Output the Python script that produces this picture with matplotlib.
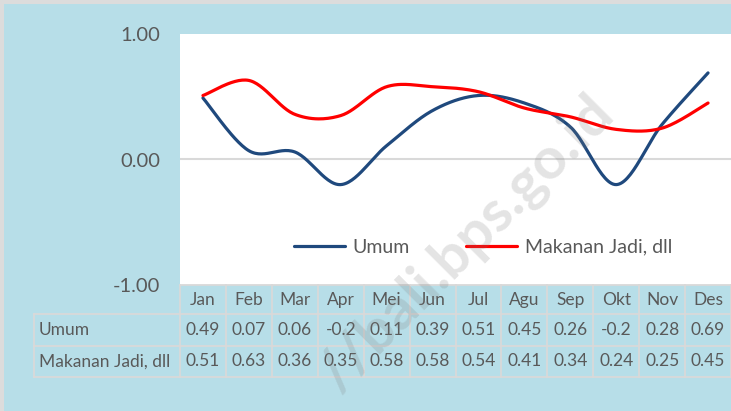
import numpy as np
import matplotlib.pyplot as plt
from matplotlib.transforms import blended_transform_factory

# data
months = ['Jan', 'Feb', 'Mar', 'Apr', 'Mei', 'Jun', 'Jul', 'Agu', 'Sep', 'Okt', 'Nov', 'Des']
umum = [0.49, 0.07, 0.06, -0.2, 0.11, 0.39, 0.51, 0.45, 0.26, -0.2, 0.28, 0.69]
makanan = [0.51, 0.63, 0.36, 0.35, 0.58, 0.58, 0.54, 0.41, 0.34, 0.24, 0.25, 0.45]
series_names = ['Umum', 'Makanan Jadi, dll']

BG = '#B7DEE8'
TXT = '#595959'
GRID = '#D9D9D9'

plt.rcParams['font.family'] = ['Lato', 'DejaVu Sans']


# Excel-like smoothed line (cardinal bezier)
def smooth(xs, ys, n=30):
    p = np.column_stack([xs, ys]).astype(float)
    ext = np.vstack([p[0], p, p[-1]])
    out = []
    for i in range(len(p) - 1):
        p0, p1, p2, p3 = ext[i], ext[i + 1], ext[i + 2], ext[i + 3]
        c1 = p1 + (p2 - p0) / 6
        c2 = p2 - (p3 - p1) / 6
        t = np.linspace(0, 1, n)[:, None]
        seg = (1 - t) ** 3 * p1 + 3 * (1 - t) ** 2 * t * c1 + 3 * (1 - t) * t ** 2 * c2 + t ** 3 * p2
        out.append(seg if i == 0 else seg[1:])
    out = np.vstack(out)
    return out[:, 0], out[:, 1]


fig = plt.figure(figsize=(7.31, 4.11), dpi=100)
fig.patch.set_facecolor(BG)

# thin grey frame on top and left
fig.add_artist(plt.Rectangle((0, 1 - 4 / 411), 1, 4 / 411, transform=fig.transFigure, color='#DCDCDC', lw=0))
fig.add_artist(plt.Rectangle((0, 0), 4 / 731, 1, transform=fig.transFigure, color='#DCDCDC', lw=0))

ax = fig.add_axes([180 / 731, 1 - 285 / 411, 551 / 731, 251 / 411])
ax.set_facecolor('white')
x = np.arange(len(months))

ax.axhline(0, color=GRID, lw=1.5, zorder=1)
sx, sy = smooth(x, umum)
ax.plot(sx, sy, color='#1F497D', lw=2.3, solid_capstyle='round', label=series_names[0], zorder=3)
sx, sy = smooth(x, makanan)
ax.plot(sx, sy, color='#FF0000', lw=2.3, solid_capstyle='round', label=series_names[1], zorder=3)

ax.set_xlim(-0.5, 11.5)
ax.set_ylim(-1, 1)
ax.set_yticks([-1, 0, 1])
ax.set_yticklabels(['-1.00', '0.00', '1.00'])
ax.tick_params(axis='y', length=0, pad=14, labelsize=14.5, labelcolor=TXT)
ax.set_xticks([])
for s in ax.spines.values():
    s.set_visible(False)

leg = ax.legend(loc='center', bbox_to_anchor=(0.55, 0.151), ncol=2, frameon=False,
                fontsize=14, handlelength=2.6, columnspacing=2.9, handletextpad=0.4)
for t in leg.get_texts():
    t.set_color(TXT)

# data table under the plot (row edges in pixels below the axes bottom)
tr = blended_transform_factory(ax.transData, ax.transAxes)
edges = [-(e - 285) / 251 for e in (285, 314, 345.5, 377)]
left = -0.5 - 146 / 45.9
kw = dict(transform=tr, clip_on=False, color=GRID, lw=1.3)
ax.plot([-0.5, 11.5], [edges[0], edges[0]], **kw)
for e in edges[1:]:
    ax.plot([left, 11.5], [e, e], **kw)
for i in range(13):
    ax.plot([i - 0.5, i - 0.5], [edges[0], edges[3]], **kw)
ax.plot([left, left], [edges[1], edges[3]], **kw)

mid = [(edges[k] + edges[k + 1]) / 2 for k in range(3)]
fs = 12.5
for i, m in enumerate(months):
    ax.text(i, mid[0], m, transform=tr, ha='center', va='center', fontsize=fs, color=TXT)
    ax.text(i, mid[1], f'{umum[i]:g}', transform=tr, ha='center', va='center', fontsize=fs, color=TXT)
    ax.text(i, mid[2], f'{makanan[i]:g}', transform=tr, ha='center', va='center', fontsize=fs, color=TXT)
for k, name in enumerate(series_names):
    ax.text(left + 0.1, mid[k + 1], name, transform=tr, ha='left', va='center', fontsize=fs, color=TXT)

# watermark
fig.text(466 / 731, 1 - 243 / 411, '//bali.bps.go.id', rotation=45, ha='center', va='center',
         fontsize=42, fontweight='bold', color='#7A7A7A', alpha=0.2, zorder=10)

fig.savefig('out.png', dpi=100, facecolor=fig.get_facecolor())
